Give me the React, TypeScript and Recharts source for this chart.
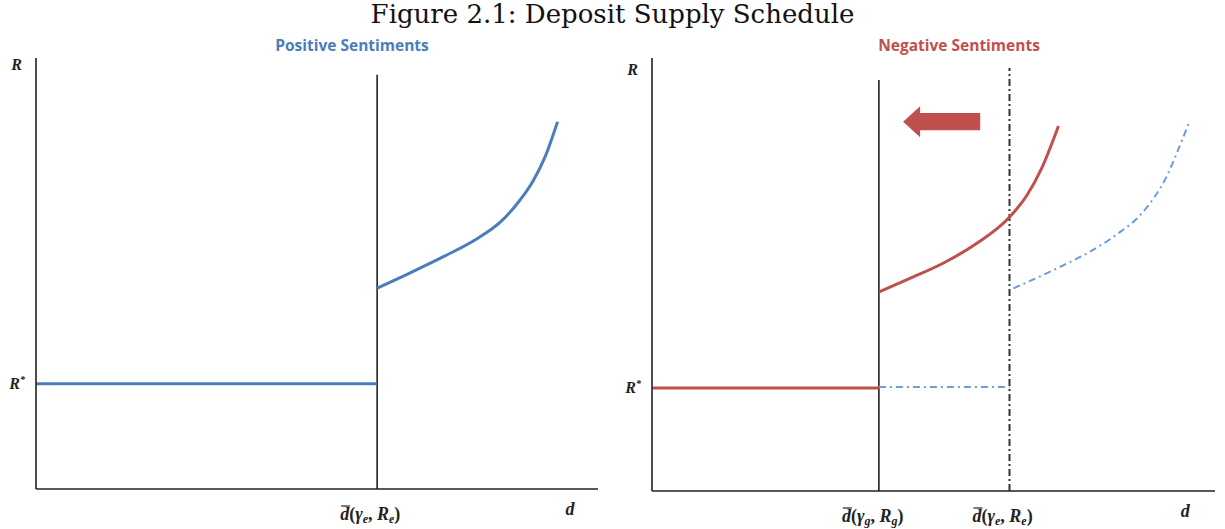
import React from 'react';
import {
  ComposedChart,
  Line,
  XAxis,
  YAxis,
  ReferenceLine,
} from 'recharts';

// values (d on x, R on y, axes run 0..10)
const posCurve = [
  { d: 6.07, R: 4.66 }, { d: 6.65, R: 5.01 }, { d: 7.25, R: 5.39 }, { d: 7.84, R: 5.8 },
  { d: 8.26, R: 6.19 }, { d: 8.61, R: 6.7 }, { d: 8.85, R: 7.16 }, { d: 9.06, R: 7.71 },
  { d: 9.28, R: 8.52 },
];
const posFloor = [{ d: 0, R: 2.44 }, { d: 6.07, R: 2.44 }];
const posBar = 6.07;
const posBarTop = 9.61;

const negCurve = [
  { d: 4.04, R: 4.6 }, { d: 4.58, R: 4.91 }, { d: 5.17, R: 5.26 }, { d: 5.77, R: 5.72 },
  { d: 6.33, R: 6.3 }, { d: 6.66, R: 6.83 }, { d: 6.92, R: 7.45 }, { d: 7.22, R: 8.43 },
];
const negFloor = [{ d: 0, R: 2.38 }, { d: 4.03, R: 2.38 }];
const negBar = 4.03;
const negBarTop = 9.49;

// old (positive) schedule shown dash-dot on the right
const oldCurve = [
  { d: 6.42, R: 4.68 }, { d: 7.19, R: 5.14 }, { d: 7.78, R: 5.53 }, { d: 8.25, R: 5.92 },
  { d: 8.67, R: 6.37 }, { d: 8.91, R: 6.76 }, { d: 9.14, R: 7.26 }, { d: 9.32, R: 7.8 },
  { d: 9.54, R: 8.51 },
];
const oldFloor = [{ d: 4.03, R: 2.4 }, { d: 6.35, R: 2.4 }];
const oldBar = 6.35;
const oldBarTop = 9.77;

const arrowFrom = { d: 5.83, R: 8.53 };
const arrowTo = { d: 4.46, R: 8.53 };

const leftYTicks = [2.44, 9.84];
const leftXTicks = [6.07, 9.5];
const rightYTicks = [2.38, 9.72];
const rightXTicks = [4.03, 6.35, 9.47];

const BLUE = '#4a7ebb';
const RED = '#c0504d';
const LABEL_FONT = '"Liberation Serif", serif';

function BarLabel({ g, R }: { g: string; R: string }) {
  const sub = { fontSize: 12, fontStyle: 'italic' as const };
  return (
    <g>
      <line x1={-36} x2={-27} y1={-14} y2={-14} stroke="#222" strokeWidth={1.2} />
      <text x={-37} y={0} fontFamily={LABEL_FONT} fontSize={18} fontWeight="bold" fill="#222">
        <tspan fontStyle="italic">d</tspan>
        <tspan>(</tspan>
        <tspan fontStyle="italic">γ</tspan>
        <tspan {...sub} dy={3}>{g}</tspan>
        <tspan dy={-3}>, </tspan>
        <tspan fontStyle="italic">R</tspan>
        <tspan {...sub} dy={3}>{R}</tspan>
        <tspan dy={-3}>)</tspan>
      </text>
    </g>
  );
}

function makeXTick(labels: Record<number, string>) {
  return (props: any) => {
    const { x, y, payload } = props;
    const kind = labels[payload.value];
    if (kind === 'd') {
      return (
        <text x={x} y={y + 18} textAnchor="middle" fontFamily={LABEL_FONT} fontSize={18}
          fontWeight="bold" fontStyle="italic" fill="#222">d</text>
      );
    }
    return (
      <g transform={`translate(${x},${y + 23})`}>
        <BarLabel g={kind} R={kind} />
      </g>
    );
  };
}

function makeYTick(top: number) {
  return (props: any) => {
    const { x, y, payload } = props;
    const isTop = payload.value === top;
    return (
      <text x={x + (isTop ? -2 : 1)} y={y + 5} textAnchor="end" fontFamily={LABEL_FONT} fontSize={16}
        fontWeight="bold" fontStyle="italic" fill="#222">
        R{!isTop && <tspan fontSize={10} dy={-6}>*</tspan>}
      </text>
    );
  };
}

const ArrowShape = (p: any) => {
  const { x1, y1, x2 } = p;
  const cy = y1;
  const headBase = x2 + 17;
  const pts = [
    [x2, cy], [headBase, cy - 15.5], [headBase, cy - 8.7], [x1, cy - 8.7],
    [x1, cy + 8.7], [headBase, cy + 8.7], [headBase, cy + 15.5],
  ].map((q) => q.join(',')).join(' ');
  return <polygon points={pts} fill={RED} />;
};

const axisLine = { stroke: '#222', strokeWidth: 1.6 };

export default function App() {
  return (
    <div style={{ position: 'absolute', left: 0, top: 0, width: 1225, height: 529, background: '#fff' }}>
      <div style={{
        position: 'absolute', left: 0, top: 0, width: 1225, textAlign: 'center',
        fontFamily: '"DejaVu Serif", serif', fontSize: 26, lineHeight: '28px', color: '#111',
      }}>
        Figure 2.1: Deposit Supply Schedule
      </div>
      <div style={{
        position: 'absolute', left: 262, top: 34, width: 180, textAlign: 'center',
        fontFamily: '"Open Sans", sans-serif', fontWeight: 700, fontSize: 15.5, color: BLUE,
      }}>
        Positive Sentiments
      </div>
      <div style={{
        position: 'absolute', left: 867, top: 34, width: 184, textAlign: 'center',
        fontFamily: '"Open Sans", sans-serif', fontWeight: 700, fontSize: 15.5, color: RED,
      }}>
        Negative Sentiments
      </div>

      {/* left panel */}
      <div style={{ position: 'absolute', left: 0, top: 0 }}>
        <ComposedChart width={612} height={529} margin={{ top: 58, left: 0, right: 14, bottom: 0 }}>
          <XAxis type="number" dataKey="d" domain={[0, 10]} ticks={leftXTicks} allowDataOverflow
            axisLine={axisLine} tickLine={false} height={40}
            tick={makeXTick({ 6.07: 'e', 9.5: 'd' })} />
          <YAxis type="number" dataKey="R" domain={[0, 10]} ticks={leftYTicks} allowDataOverflow
            axisLine={axisLine} tickLine={false} width={36} tickSize={0} tickMargin={12}
            tick={makeYTick(9.84)} />
          <ReferenceLine segment={[{ x: posBar, y: 0 }, { x: posBar, y: posBarTop }]}
            stroke="#222" strokeWidth={1.6} />
          <Line data={posFloor} dataKey="R" type="linear" stroke={BLUE} strokeWidth={3}
            dot={false} isAnimationActive={false} />
          <Line data={posCurve} dataKey="R" type="monotone" stroke={BLUE} strokeWidth={3}
            dot={false} isAnimationActive={false} />
        </ComposedChart>
      </div>

      {/* right panel */}
      <div style={{ position: 'absolute', left: 612, top: 0 }}>
        <ComposedChart width={613} height={529} margin={{ top: 58, left: 0, right: 10, bottom: 0 }}>
          <XAxis type="number" dataKey="d" domain={[0, 10]} ticks={rightXTicks} allowDataOverflow
            axisLine={axisLine} tickLine={false} height={38}
            tick={makeXTick({ 4.03: 'g', 6.35: 'e', 9.47: 'd' })} />
          <YAxis type="number" dataKey="R" domain={[0, 10]} ticks={rightYTicks} allowDataOverflow
            axisLine={axisLine} tickLine={false} width={40} tickSize={0} tickMargin={12}
            tick={makeYTick(9.72)} />
          <ReferenceLine segment={[{ x: negBar, y: 0 }, { x: negBar, y: negBarTop }]}
            stroke="#222" strokeWidth={1.6} />
          <ReferenceLine segment={[{ x: oldBar, y: 0 }, { x: oldBar, y: oldBarTop }]}
            stroke="#333" strokeWidth={2} strokeDasharray="7 3 2 3" />
          <ReferenceLine segment={[{ x: arrowFrom.d, y: arrowFrom.R }, { x: arrowTo.d, y: arrowTo.R }]}
            shape={ArrowShape} />
          <Line data={oldFloor} dataKey="R" type="linear" stroke="#6b9be0" strokeWidth={2}
            strokeDasharray="7 4 2 4" dot={false} isAnimationActive={false} />
          <Line data={oldCurve} dataKey="R" type="monotone" stroke="#6b9be0" strokeWidth={2}
            strokeDasharray="7 4 2 4" dot={false} isAnimationActive={false} />
          <Line data={negFloor} dataKey="R" type="linear" stroke={RED} strokeWidth={3}
            dot={false} isAnimationActive={false} />
          <Line data={negCurve} dataKey="R" type="monotone" stroke={RED} strokeWidth={3}
            dot={false} isAnimationActive={false} />
        </ComposedChart>
      </div>
    </div>
  );
}
